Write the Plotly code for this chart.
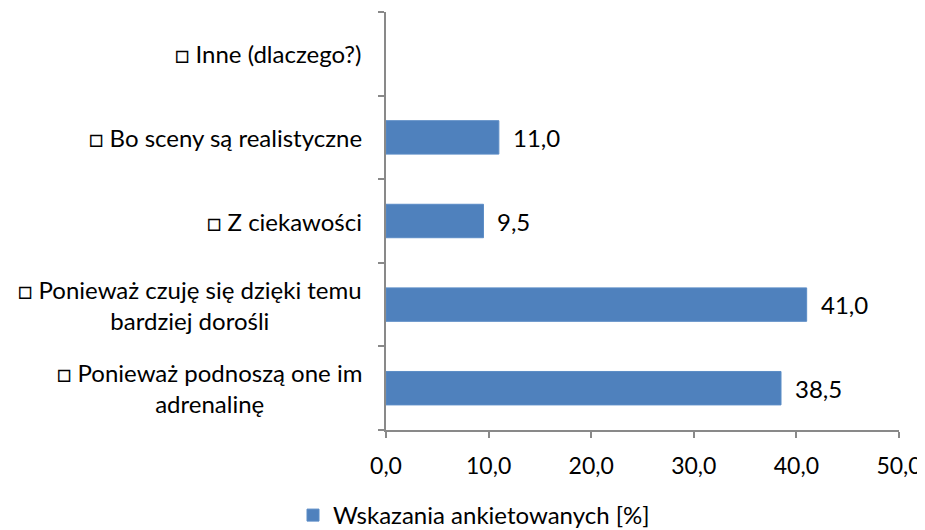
import plotly.graph_objects as go

categories = [
    "□ Ponieważ podnoszą one im<br>adrenalinę",
    "□ Ponieważ czuję się dzięki temu<br>bardziej dorośli",
    "□ Z ciekawości",
    "□ Bo sceny są realistyczne",
    "□ Inne (dlaczego?)",
]
values = [38.5, 41.0, 9.5, 11.0, None]
x_ticks = [0, 10, 20, 30, 40, 50]
x_tick_labels = ["0,0", "10,0", "20,0", "30,0", "40,0", "50,0"]
series_name = "Wskazania ankietowanych [%]"

FONT = "Lato"
FS = 24
BAR_COLOR = "#4F81BD"
AXIS_COLOR = "#898989"

fig = go.Figure()
fig.add_trace(go.Bar(
    y=categories, x=values, orientation="h", name=series_name,
    marker=dict(color=BAR_COLOR, line=dict(color="#5B8CC6", width=1)),
    width=0.4, showlegend=True, hoverinfo="skip",
))

annotations = []
for c, v in zip(categories, values):
    if v is not None:
        annotations.append(dict(
            x=v, y=c, xref="x", yref="y", text=f"{v:.1f}".replace(".", ","),
            showarrow=False, xanchor="left", yanchor="middle", xshift=12,
            font=dict(family=FONT, size=FS, color="#000000"),
        ))
    annotations.append(dict(
        x=0, y=c, xref="paper", yref="y", text=c, showarrow=False,
        xanchor="right", yanchor="middle", align="center", xshift=-22,
        font=dict(family=FONT, size=FS, color="#000000"),
    ))

W, H = 917, 522
fig.update_layout(
    width=W, height=H,
    margin=dict(l=378, r=26, t=4, b=100, autoexpand=False),
    paper_bgcolor="white", plot_bgcolor="white",
    font=dict(family=FONT, size=FS, color="#000000"),
    annotations=annotations,
    xaxis=dict(
        range=[0, 50], tickvals=x_ticks, ticktext=x_tick_labels,
        tickfont=dict(family=FONT, size=23, color="#000000"),
        showgrid=False, zeroline=False, showline=True, linecolor=AXIS_COLOR,
        linewidth=1.5, ticks="outside", ticklen=6, tickcolor=AXIS_COLOR,
        tickwidth=1.5, ticklabelstandoff=9, fixedrange=True,
    ),
    yaxis=dict(
        type="category", categoryorder="array", categoryarray=categories,
        range=[-0.5, 4.5], showticklabels=False, showgrid=False,
        zeroline=False, showline=True, linecolor=AXIS_COLOR, linewidth=1.5,
        ticks="outside", ticklen=6, tickcolor=AXIS_COLOR, tickwidth=1.5,
        tickson="boundaries", fixedrange=True,
    ),
    legend=dict(
        orientation="h", xref="container", yref="container",
        x=285 / W, y=1 - 485 / H, xanchor="left", yanchor="top",
        font=dict(family=FONT, size=FS, color="#000000"),
        bgcolor="rgba(0,0,0,0)",
    ),
)

fig.write_html("out.html")
